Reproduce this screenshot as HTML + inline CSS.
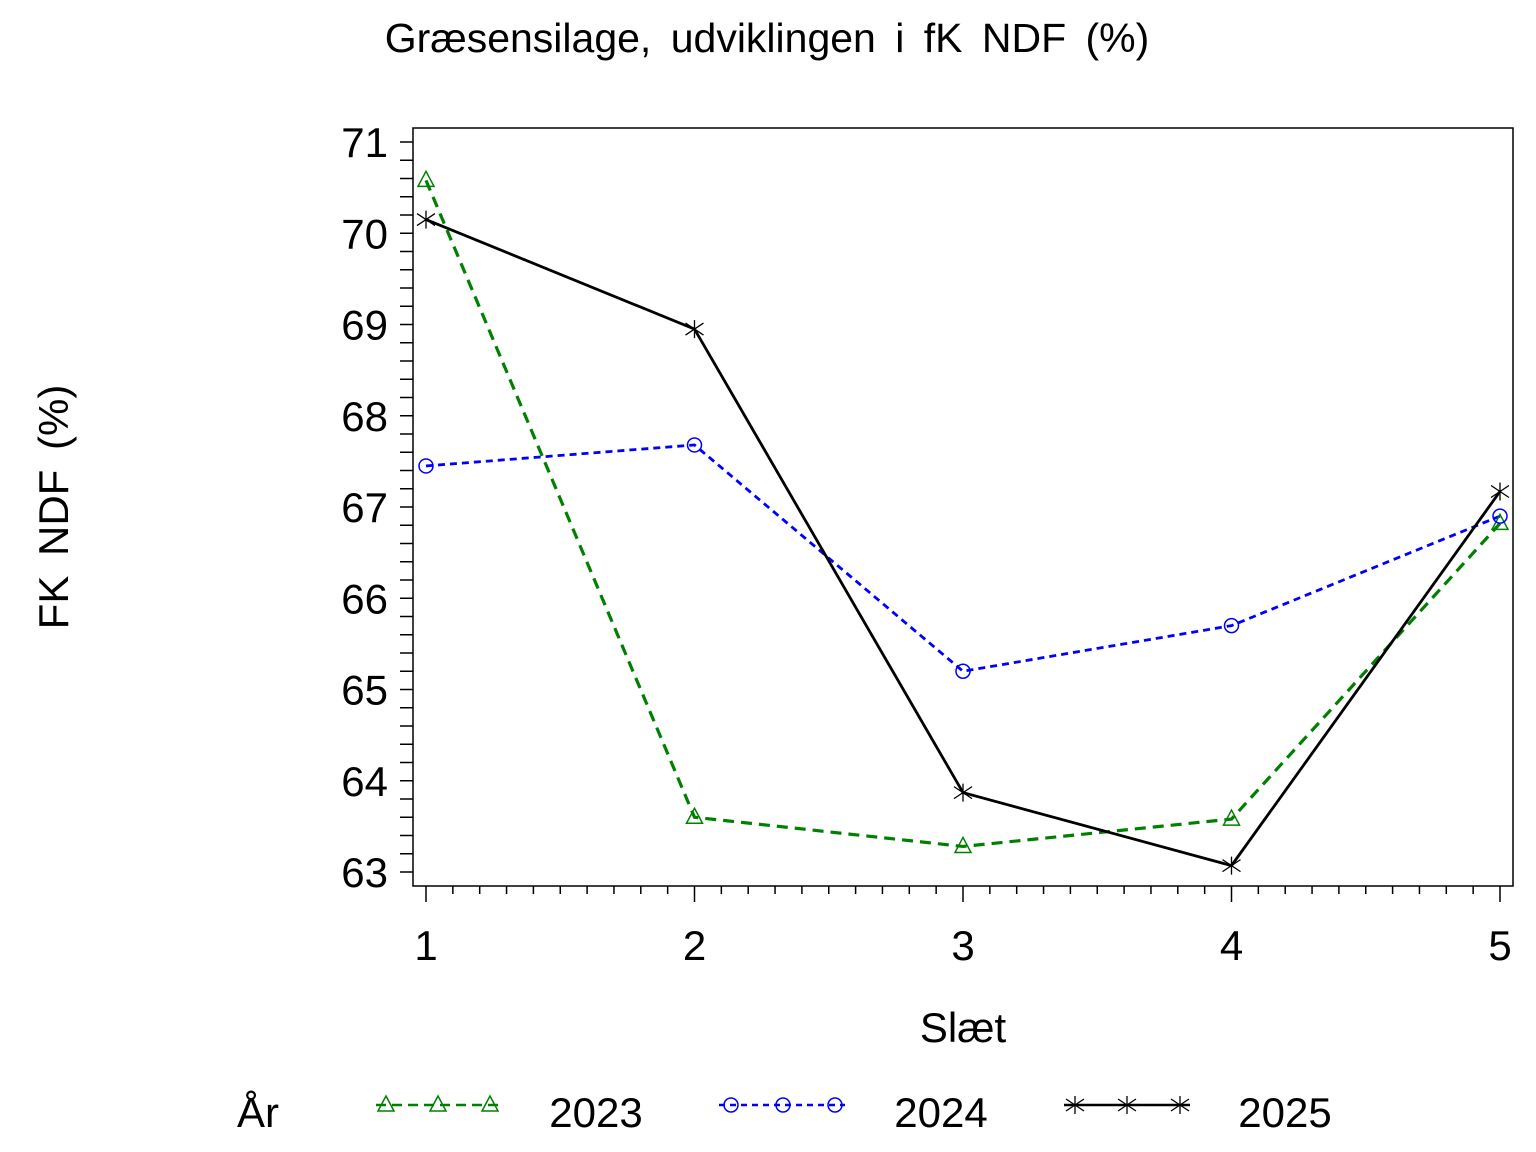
<!DOCTYPE html>
<html><head><meta charset="utf-8"><style>body{margin:0;background:#fff}svg{display:block}</style></head><body>
<svg width="1536" height="1152" xmlns="http://www.w3.org/2000/svg" font-family="Liberation Sans, sans-serif">
<rect width="1536" height="1152" fill="#fff"/>
<text x="767" y="52" font-size="41" text-anchor="middle" word-spacing="8">Græsensilage,  udviklingen  i  fK  NDF  (%)</text>
<rect x="413" y="128" width="1100" height="758" fill="none" stroke="#000" stroke-width="1.5"/>
<g stroke="#000" stroke-width="1.5" id="ticks"></g>
<g font-size="42" text-anchor="end" id="ylab"></g>
<g font-size="42" text-anchor="middle" id="xlab"></g>
<text x="68" y="507" font-size="42" text-anchor="middle" word-spacing="8" transform="rotate(-90 68 507)">FK NDF  (%)</text>
<text x="963" y="1042" font-size="42" text-anchor="middle">Slæt</text>
<g id="series"></g>
<text x="258" y="1127" font-size="42" text-anchor="middle">År</text>
<g stroke-width="2.5" fill="none">
<line x1="376" y1="1105" x2="502" y2="1105" stroke="#008000" stroke-dasharray="10,6"/>
<line x1="719" y1="1105" x2="845" y2="1105" stroke="#0000ff" stroke-dasharray="6,5"/>
<line x1="1064" y1="1105" x2="1190" y2="1105" stroke="#000"/>
</g>
<g id="leg"></g>
<text x="596" y="1127" font-size="42" text-anchor="middle">2023</text>
<text x="941" y="1127" font-size="42" text-anchor="middle">2024</text>
<text x="1285" y="1127" font-size="42" text-anchor="middle">2025</text>
</svg>
<script>
const NS="http://www.w3.org/2000/svg";
function el(p,t,a){const e=document.createElementNS(NS,t);for(const k in a)e.setAttribute(k,a[k]);document.getElementById(p).appendChild(e);return e;}
const X=v=>426+(v-1)*268.5, Y=v=>872-(v-63)*91.25;
for(let i=0;i<=40;i++){const v=63+i*0.2;el('ticks','line',{x1:400,x2:413,y1:Y(v),y2:Y(v)});}
for(let i=0;i<=40;i++){const v=1+i*0.1;const x=X(v);el('ticks','line',{x1:x,x2:x,y1:886,y2:(i%10==0)?902:894});}
for(let v=63;v<=71;v++){el('ylab','text',{x:388,y:Y(v)+15}).textContent=v;}
for(let v=1;v<=5;v++){el('xlab','text',{x:X(v),y:960}).textContent=v;}
const d={g:[70.58,63.6,63.28,63.58,66.82],b:[67.45,67.68,65.2,65.7,66.9],k:[70.15,68.95,63.87,63.07,67.17]};
function tri(g,x,y,c){el(g,'polygon',{points:`${x},${y-9} ${x-8},${y+6} ${x+8},${y+6}`,fill:'none',stroke:c,'stroke-width':1.5});}
function circ(g,x,y,c){el(g,'circle',{cx:x,cy:y,r:7,fill:'none',stroke:c,'stroke-width':1.5});}
function star(g,x,y,c){el(g,'path',{d:`M${x-9},${y-6}L${x+9},${y+6}M${x-9},${y+6}L${x+9},${y-6}M${x},${y-9}L${x},${y+9}`,stroke:c,'stroke-width':1.3});}
const pts=a=>a.map((v,i)=>X(i+1)+','+Y(v)).join(' ');
el('series','polyline',{points:pts(d.g),fill:'none',stroke:'#008000','stroke-width':3.2,'stroke-dasharray':'11,7'});
el('series','polyline',{points:pts(d.b),fill:'none',stroke:'#0000ff','stroke-width':2.8,'stroke-dasharray':'7,5'});
el('series','polyline',{points:pts(d.k),fill:'none',stroke:'#000','stroke-width':2.8});
d.g.forEach((v,i)=>tri('series',X(i+1),Y(v),'#008000'));
d.b.forEach((v,i)=>circ('series',X(i+1),Y(v),'#0000ff'));
d.k.forEach((v,i)=>star('series',X(i+1),Y(v),'#000'));
[386,438,490].forEach(x=>tri('leg',x,1105,'#008000'));
[731,783,835].forEach(x=>circ('leg',x,1105,'#0000ff'));
[1075,1127,1180].forEach(x=>star('leg',x,1105,'#000'));
</script>
</body></html>
